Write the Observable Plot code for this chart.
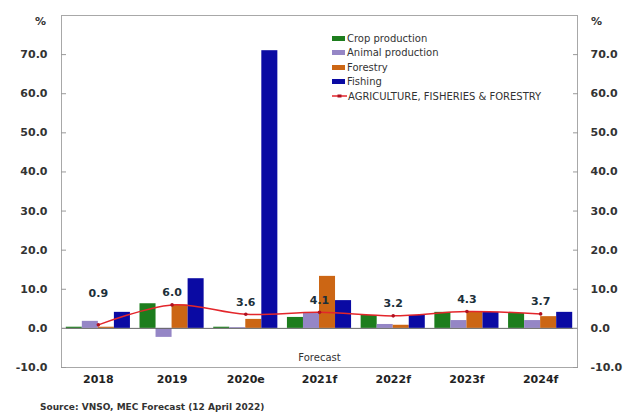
<!DOCTYPE html>
<html>
<head>
<meta charset="utf-8">
<script src="https://cdn.jsdelivr.net/npm/d3@7"></script>
<script src="https://cdn.jsdelivr.net/npm/@observablehq/plot@0.6"></script>
<style>
  body { margin: 0; background: #fff; font-family: "DejaVu Sans", sans-serif; }
  #wrap { position: relative; width: 629px; }
  #legend { position: absolute; left: 332px; top: 31px; font-size: 10px; color: #333; }
  .item { display: flex; align-items: center; height: 14.5px; white-space: nowrap; }
  .sw { width: 13px; height: 5px; margin-right: 2px; }
  #source { font: bold 9px "DejaVu Sans", sans-serif; color: #333; padding-left: 40px; line-height: 14px; }
</style>
</head>
<body>
<div id="wrap">
  <div id="chart"></div>
  <div id="legend"></div>
</div>
<div id="source">Source: VNSO, MEC Forecast (12 April 2022)</div>
<script>
// Growth by sub-sector, % year on year
const years = ["2018", "2019", "2020e", "2021f", "2022f", "2023f", "2024f"];
const series = ["Crop production", "Animal production", "Forestry", "Fishing"];
const colors = ["#1d7d1d", "#9586c6", "#cc6614", "#0a0aa3"];
const crop = [0.3, 6.3, 0.3, 2.8, 3.3, 4.1, 3.8];
const animal = [1.8, -2.3, 0.2, 3.8, 1.0, 2.0, 2.0];
const forestry = [0.3, 6.0, 2.3, 13.3, 0.8, 4.3, 3.0];
const fishing = [4.1, 12.7, 71.0, 7.1, 3.3, 4.1, 4.1];
const total = [0.9, 6.0, 3.6, 4.1, 3.2, 4.3, 3.7];
const totalName = "AGRICULTURE, FISHERIES & FORESTRY";
const forecastLabel = "Forecast";
const yTicks = [-10, 0, 10, 20, 30, 40, 50, 60, 70];

const lineColor = "#e3262b";
const groupWidth = 0.87;               // share of each year slot covered by the four bars
const barWidth = groupWidth / series.length;
const firstForecast = years.findIndex(y => y.endsWith("f"));

const values = [crop, animal, forestry, fishing];
const bars = years.flatMap((year, i) =>
  series.map((s, k) => ({
    i, series: s, value: values[k][i],
    x1: i - groupWidth / 2 + k * barWidth,
    x2: i - groupWidth / 2 + (k + 1) * barWidth
  }))
);
const line = years.map((year, i) => ({ i, year, value: total[i] }));

const fmt = d => d.toFixed(1);

const chart = Plot.plot({
  width: 629,
  height: 400,
  marginLeft: 61,
  marginRight: 52,
  marginTop: 15,
  marginBottom: 33,
  style: { fontFamily: "DejaVu Sans, sans-serif", background: "#fff", color: "#333" },
  x: { domain: [-0.5, years.length - 0.5] },
  y: { domain: [-10, 80] },
  color: { domain: series, range: colors },
  marks: [
    Plot.rect(bars, { x1: "x1", x2: "x2", y1: 0, y2: "value", fill: "series" }),
    Plot.ruleY([0], { stroke: "#666", strokeWidth: 1 }),
    Plot.line(line, { x: "i", y: "value", stroke: lineColor, strokeWidth: 1.5, curve: "catmull-rom" }),
    Plot.dot(line, { x: "i", y: "value", r: 1.8, fill: "#b01020", stroke: "none" }),
    Plot.text(line.slice(1), { x: "i", y: "value", text: d => fmt(d.value), dy: -12,
      fontSize: 11, fontWeight: "bold", fill: "#1c2f3a" }),
    Plot.text(line.slice(0, 1), { x: "i", y: "value", text: d => fmt(d.value), dy: -31,
      fontSize: 11, fontWeight: "bold", fill: "#1c2f3a" }),
    Plot.text([forecastLabel], { x: firstForecast, y: -7.6, text: d => d,
      fontSize: 10, fill: "#333" }),
    Plot.frame({ stroke: "#a8a8a8" }),
    Plot.axisX({ ticks: d3.range(years.length), tickFormat: i => years[i], tickSize: 0,
      tickPadding: 8, fontSize: 11, fontWeight: "bold", fill: "#222", label: null }),
    Plot.axisY({ anchor: "left", ticks: yTicks, tickFormat: fmt, tickSize: -5, tickPadding: 19,
      stroke: "#999", fontSize: 11, fontWeight: "bold", fill: "#333", label: null }),
    Plot.axisY({ anchor: "right", ticks: yTicks, tickFormat: fmt, tickSize: -5, tickPadding: 18,
      stroke: "#999", fontSize: 11, fontWeight: "bold", fill: "#333", label: null }),
    Plot.text(["%"], { frameAnchor: "top-left", dx: -21, dy: 2, text: d => d,
      fontSize: 11, fontWeight: "bold", fill: "#333", textAnchor: "middle" }),
    Plot.text(["%"], { frameAnchor: "top-right", dx: 19, dy: 2, text: d => d,
      fontSize: 11, fontWeight: "bold", fill: "#333", textAnchor: "middle" })
  ]
});
document.getElementById("chart").appendChild(chart);

// Legend: four bar series and the total line
const legend = document.getElementById("legend");
series.forEach((s, k) => {
  const item = document.createElement("div");
  item.className = "item";
  item.innerHTML = `<span class="sw" style="background:${colors[k]}"></span><span>${s}</span>`;
  legend.appendChild(item);
});
const lineItem = document.createElement("div");
lineItem.className = "item";
lineItem.innerHTML = `<svg width="15" height="6" style="margin-right:1px"><line x1="0" x2="15" y1="3" y2="3" stroke="${lineColor}" stroke-width="1.5"/><rect x="5.5" y="1.5" width="4" height="3" fill="#b01020"/></svg><span>${totalName.replace("&", "&amp;")}</span>`;
legend.appendChild(lineItem);
</script>
</body>
</html>
